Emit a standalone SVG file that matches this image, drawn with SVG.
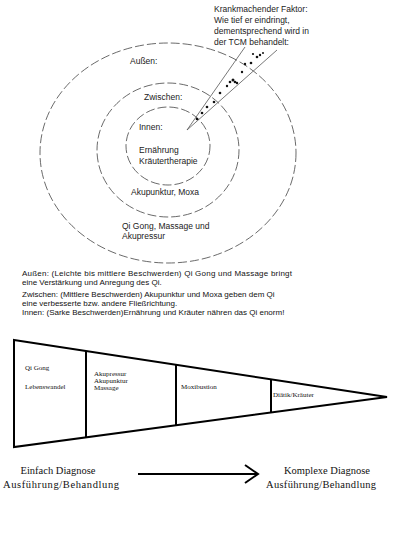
<svg xmlns="http://www.w3.org/2000/svg" width="406" height="555" viewBox="0 0 406 555">
<style>
.ring{fill:none;stroke:#444;stroke-width:0.8;stroke-dasharray:9 3}
.lbl{font-family:"Liberation Sans",Arial,sans-serif;font-size:8.5px;fill:#222}
.para{font-family:"Liberation Sans",Arial,sans-serif;font-size:8px;fill:#111}
.wl{font-family:"Liberation Serif","Times New Roman",serif;font-size:7px;fill:#111}
.big{font-family:"Liberation Serif","Times New Roman",serif;font-size:10.5px;fill:#111}
.thick{stroke:#000;stroke-width:2;fill:none}
</style>
<rect width="406" height="555" fill="#fff"/>
<g id="rings">
<ellipse class="ring" cx="168" cy="153" rx="128" ry="110"/>
<ellipse class="ring" cx="168" cy="150" rx="71" ry="67"/>
<ellipse class="ring" cx="168" cy="146" rx="42" ry="39"/>
</g>
<g id="factor">
<path d="M245 47 L187 130 L277 50" fill="none" stroke="#555" stroke-width="0.8"/>
<g fill="#111">
<circle cx="197" cy="119" r="1.3"/><circle cx="202" cy="113" r="1.3"/><circle cx="207" cy="107" r="1.3"/>
<circle cx="214" cy="102" r="1.3"/><circle cx="220" cy="93" r="1.3"/><circle cx="227" cy="86" r="1.2"/>
<circle cx="230" cy="82" r="1.3"/><circle cx="233" cy="80" r="1.5"/><circle cx="235" cy="82" r="1.3"/>
<circle cx="237" cy="83" r="1.2"/><circle cx="242" cy="72" r="1.2"/><circle cx="245" cy="64" r="1.2"/>
<circle cx="251" cy="63" r="1.3"/><circle cx="253" cy="54" r="1.1"/><circle cx="257" cy="57" r="1.3"/>
<circle cx="260" cy="55" r="1.2"/><circle cx="263" cy="53" r="1"/>
</g>
<text class="lbl" x="214" y="12">Krankmachender Faktor:</text>
<text class="lbl" x="214" y="23">Wie tief er eindringt,</text>
<text class="lbl" x="214" y="34">dementsprechend wird in</text>
<text class="lbl" x="214" y="45">der TCM behandelt:</text>
</g>
<g id="ring-labels">
<text class="lbl" x="130" y="64">Außen:</text>
<text class="lbl" x="144" y="100">Zwischen:</text>
<text class="lbl" x="139" y="130">Innen:</text>
<text class="lbl" x="139" y="153">Ernährung</text>
<text class="lbl" x="139" y="164">Kräutertherapie</text>
<text class="lbl" x="131" y="195">Akupunktur, Moxa</text>
<text class="lbl" x="122" y="229">Qi Gong, Massage und</text>
<text class="lbl" x="122" y="239">Akupressur</text>
</g>
<g id="paragraph">
<text class="para" x="22" y="276" textLength="270">Außen: (Leichte bis mittlere Beschwerden) Qi Gong  und Massage bringt</text>
<text class="para" x="22" y="285">eine Verstärkung und Anregung des Qi.</text>
<text class="para" x="22" y="297">Zwischen: (Mittlere Beschwerden) Akupunktur und Moxa geben dem Qi</text>
<text class="para" x="22" y="306">eine verbesserte bzw. andere Fließrichtung.</text>
<text class="para" x="22" y="315">Innen: (Sarke Beschwerden)Ernährung und Kräuter nähren das Qi enorm!</text>
</g>
<g id="wedge">
<path class="thick" d="M14 340 L387 397 L14 447 Z"/>
<line class="thick" x1="86" y1="351" x2="86" y2="437"/>
<line class="thick" x1="176" y1="365" x2="176" y2="425"/>
<line class="thick" x1="271" y1="379" x2="271" y2="412"/>
<text class="wl" x="25" y="370">Qi Gong</text>
<text class="wl" x="25" y="389">Lebenswandel</text>
<text class="wl" x="94" y="376">Akupressur</text>
<text class="wl" x="94" y="383">Akupunktur</text>
<text class="wl" x="94" y="390">Massage</text>
<text class="wl" x="181" y="389">Moxibustion</text>
<text class="wl" x="273" y="397">Diätik/Kräuter</text>
</g>
<g id="bottom">
<text class="big" x="58" y="474" text-anchor="middle">Einfach Diagnose</text>
<text class="big" x="61" y="488" text-anchor="middle" textLength="116">Ausführung/Behandlung</text>
<text class="big" x="327" y="474" text-anchor="middle">Komplexe Diagnose</text>
<text class="big" x="321" y="488" text-anchor="middle" textLength="110">Ausführung/Behandlung</text>
</g>
<g id="connectors">
<line x1="138" y1="474" x2="257" y2="474" stroke="#000" stroke-width="2"/>
<path d="M245 465 L258 474 L245 483" fill="none" stroke="#000" stroke-width="2"/>
</g>
</svg>
